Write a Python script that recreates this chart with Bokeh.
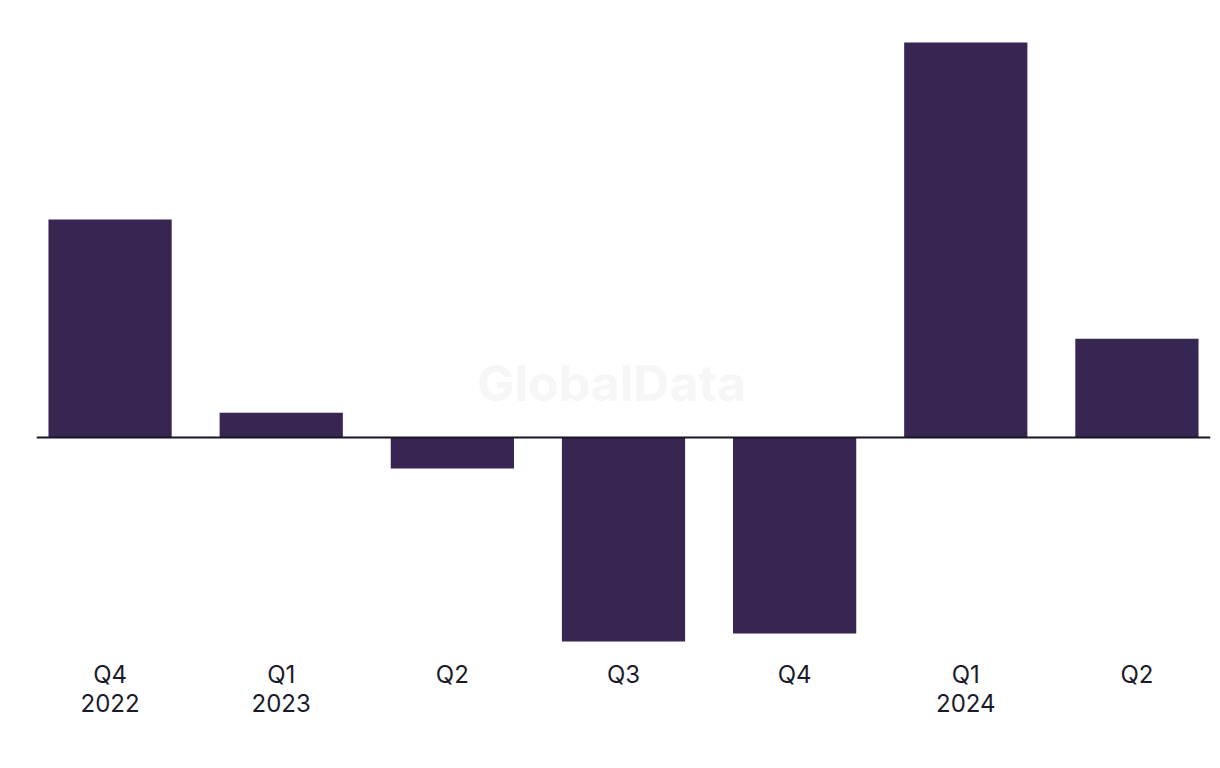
from bokeh.plotting import figure
from bokeh.models import Span, FixedTicker, Label
from bokeh.embed import file_html
from bokeh.resources import INLINE

quarters = ["Q4", "Q1", "Q2", "Q3", "Q4", "Q1", "Q2"]
years = ["2022", "2023", "", "", "", "2024", ""]
values = [5.52, 0.63, -0.78, -5.16, -4.96, 10.0, 2.5]

labels = [q + ("\n" + y if y else "") for q, y in zip(quarters, years)]
xs = list(range(len(values)))

p = figure(width=1212, height=740, output_backend="svg", toolbar_location=None,
           x_range=(-0.43, 6.43), y_range=(-5.39, 10.56),
           min_border_left=36, min_border_right=2, min_border_top=20,
           min_border_bottom=90)
p.background_fill_color = "white"
p.border_fill_color = "white"
p.outline_line_color = None
p.grid.visible = False
p.yaxis.visible = False

p.vbar(x=xs, top=values, bottom=0, width=0.72, fill_color="#372552", line_color=None)

p.add_layout(Span(location=0, dimension="width", line_color="#1a1428", line_width=2))

wm = Label(x=2.93, y=1.37, text="GlobalData",
           text_font="Inter", text_font_style="bold", text_font_size="50px",
           text_color="#f6f6f6", text_align="center", text_baseline="middle", level="underlay")
p.add_layout(wm)

p.xaxis.ticker = FixedTicker(ticks=xs)
p.xaxis.major_label_overrides = {i: l for i, l in zip(xs, labels)}
p.xaxis.axis_line_color = None
p.xaxis.major_tick_line_color = None
p.xaxis.minor_tick_line_color = None
p.xaxis.major_label_text_font = "Inter"
p.xaxis.major_label_text_font_size = "24px"
p.xaxis.major_label_text_line_height = 1.0
p.xaxis.major_label_text_color = "#1a1a2a"
p.xaxis.major_label_standoff = 3

open("out.html", "w").write(file_html(p, INLINE))
